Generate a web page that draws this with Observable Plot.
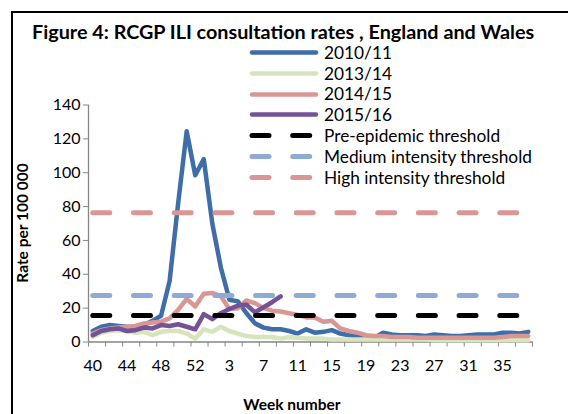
<!DOCTYPE html>
<html><head><meta charset="utf-8">
<script src="https://cdn.jsdelivr.net/npm/d3@7"></script>
<script src="https://cdn.jsdelivr.net/npm/@observablehq/plot@0.6"></script>
<style>
html,body{margin:0;padding:0;background:#fff;overflow:hidden;width:568px;height:414px;}
body{position:relative;font-family:Lato,"Open Sans",sans-serif;}
#frame{position:absolute;left:11px;top:11px;width:600px;height:450px;border:2px solid #000;box-sizing:border-box;}
#title{position:absolute;left:32px;top:32px;transform:translateY(-50%);font-weight:bold;font-size:19.8px;line-height:1;color:#000;white-space:nowrap;}
#chart{position:absolute;left:0;top:0;}
#legend{position:absolute;left:247px;top:42px;}
.row{position:absolute;left:0;height:21px;display:flex;align-items:center;white-space:nowrap;font-size:17.3px;line-height:1;color:#000;}
.row svg{display:block;margin-right:3px;}
#ylab{position:absolute;left:22px;top:223px;transform:translate(-50%,-50%) rotate(-90deg);font-weight:bold;font-size:15.5px;white-space:nowrap;}
#xlab{position:absolute;left:292px;top:404px;transform:translate(-50%,-50%);font-weight:bold;font-size:15.5px;white-space:nowrap;}
</style></head>
<body>
<div id="chart"></div>
<div id="frame"></div>
<div id="title">Figure 4: RCGP ILI consultation rates , England and Wales</div>
<div id="legend"></div>
<div id="ylab">Rate per 100 000</div>
<div id="xlab">Week number</div>
<script>
// Category axis: ISO week numbers (season running week 40 to week 38)
const weeks = [40,41,42,43,44,45,46,47,48,49,50,51,52,53,1,2,3,4,5,6,7,8,9,10,11,12,13,14,15,16,17,18,19,20,21,22,23,24,25,26,27,28,29,30,31,32,33,34,35,36,37,38];
const xTickLabels = [40,44,48,52,3,7,11,15,19,23,27,31,35];
const yTicks = [0,20,40,60,80,100,120,140];

// Series values (rate per 100 000)
const s2010_11 = [6.5,9,10,9.5,9,8.5,10,12.5,15.5,36,82,124.5,98.5,108,70,44,25,24,17,11,8.5,7.5,7.5,6.5,5,7.5,5.5,6,7,5,4,3.5,3,2.5,5.5,4.5,4,4,4,3.5,4.5,4,3.5,3.5,4,4.5,4.5,4.5,5.5,5.5,5,6];
const s2013_14 = [3,5.5,6.5,7,6.5,5.5,6,4,6,6.5,6.5,5,2,7.5,6,9,6.5,5,3.5,3,3,3,2,3,2.5,2,2,2,1.5,1.5,1.5,1.5,1.5,1.5,1.5,1.5,1.5,1.5,1.5,1.5,1,1,1,1,1,1,1,1,1,1,1,1];
const s2014_15 = [5,7,8,8.5,9,9.5,11,11.5,12,14,19,25.5,21,28.5,29,27,19.5,20,24.5,23,20,18.5,18,17,16,14.5,14.5,12,12.5,8,6.5,5.5,4,3.5,3.5,3,3,3,2.5,2.5,2.5,2.5,2.5,2.5,2.5,2.5,2.5,2.5,3,3.5,3.5,3.5];
const s2015_16 = [4,6.5,7.5,8,6.5,7,8.5,8,10,9.5,10.5,9,7.5,16.5,13.5,17,19.5,21.5,22,17.5,20.5,23.5,27];

const preEpidemic = 15.6;
const mediumIntensity = 27.5;
const highIntensity = 76.3;

const seriesNames = ["2010/11","2013/14","2014/15","2015/16","Pre-epidemic threshold","Medium intensity threshold","High intensity threshold"];
const seriesColors = ["#3E6DA8","#D7E4BD","#D99694","#735396","#000000","#8FAAD3","#D99694"];

const toRows = arr => arr.map((v,i)=>({i, v}));
const flat = val => weeks.map((w,i)=>({i, v: val}));

const lineStyle = {x:"i", y:"v", strokeWidth:4.5, strokeLinejoin:"round", strokeLinecap:"round"};
const dashStyle = {x:"i", y:"v", strokeWidth:5, strokeLinecap:"round", strokeDasharray:"17,23.7"};

const boundaries = d3.range(0, 27).map(k => -0.5 + 2*k);
const labelIdx = xTickLabels.map((w,k) => 4*k);

const chart = Plot.plot({
  width: 568, height: 414,
  marginLeft: 88, marginRight: 36, marginTop: 104.5, marginBottom: 72.5,
  style: {fontFamily: "Lato, 'Open Sans', sans-serif", fontSize: "16px", color: "#000", background: "transparent", overflow: "visible"},
  x: {type: "linear", domain: [-0.5, 51.5]},
  y: {domain: [0, 140]},
  marks: [
    Plot.ruleY([0], {stroke: "#868686", strokeWidth: 1.3}),
    Plot.ruleX([-0.5], {stroke: "#868686", strokeWidth: 1.3}),
    Plot.axisY({ticks: yTicks, tickSize: 5, tickPadding: 3, stroke: "#868686", fill: "#000", label: null, fontSize: 16}),
    Plot.axisX({ticks: boundaries, tickSize: 5, stroke: "#868686", text: null, label: null}),
    Plot.axisX({ticks: labelIdx, tickSize: 0, tickPadding: 18, tickFormat: i => String(weeks[i]), fill: "#000", label: null, fontSize: 16}),
    Plot.line(toRows(s2010_11), {...lineStyle, stroke: seriesColors[0]}),
    Plot.line(toRows(s2013_14), {...lineStyle, stroke: seriesColors[1]}),
    Plot.line(toRows(s2014_15), {...lineStyle, stroke: seriesColors[2]}),
    Plot.line(toRows(s2015_16), {...lineStyle, stroke: seriesColors[3]}),
    Plot.line(flat(preEpidemic), {...dashStyle, stroke: seriesColors[4]}),
    Plot.line(flat(mediumIntensity), {...dashStyle, stroke: seriesColors[5]}),
    Plot.line(flat(highIntensity), {...dashStyle, stroke: seriesColors[6]})
  ]
});
document.getElementById("chart").appendChild(chart);

// Legend
const legend = document.getElementById("legend");
seriesNames.forEach((name, k) => {
  const row = document.createElement("div");
  row.className = "row";
  row.style.top = (k * 20.8) + "px";
  const dashed = k >= 4;
  row.innerHTML = `<svg width="74" height="21"><line x1="5" x2="69" y1="10.5" y2="10.5" stroke="${seriesColors[k]}" stroke-width="${dashed ? 5 : 4.5}" stroke-linecap="round" ${dashed ? 'stroke-dasharray="17,23.7"' : ''}/></svg><span>${name}</span>`;
  legend.appendChild(row);
});
</script>
</body></html>
